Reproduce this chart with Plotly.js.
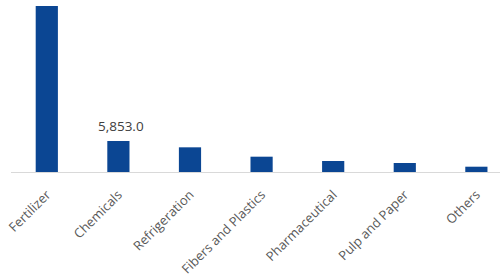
<!DOCTYPE html>
<html>
<head>
<meta charset="utf-8">
<script src="https://cdn.plot.ly/plotly-3.0.1.min.js"></script>
<style>
  html, body { margin: 0; padding: 0; background: #ffffff; }
  #chart { width: 500px; height: 280px; }
</style>
</head>
<body>
<div id="chart"></div>
<script>
// End-use segments and their values
const categories = ['Fertilizer', 'Chemicals', 'Refrigeration', 'Fibers and Plastics', 'Pharmaceutical', 'Pulp and Paper', 'Others'];
const values = [31340, 5853, 4660, 2890, 2080, 1700, 1000];
// Only the Chemicals bar carries a value label
const labelledCategory = 'Chemicals';

const labelIdx = categories.indexOf(labelledCategory);
const labelText = values[labelIdx].toLocaleString('en-US', { minimumFractionDigits: 1, maximumFractionDigits: 1 });

const trace = {
  type: 'bar',
  x: categories,
  y: values,
  marker: { color: '#0b4693' },
  hoverinfo: 'x+y'
};

const layout = {
  width: 500,
  height: 280,
  margin: { l: 11, r: 0, t: 0, b: 108 },
  paper_bgcolor: '#ffffff',
  plot_bgcolor: '#ffffff',
  bargap: 0.69,
  showlegend: false,
  font: { family: '"Open Sans", sans-serif', color: '#595959' },
  xaxis: {
    type: 'category',
    range: [-0.5, 6.33],
    showline: true,
    linecolor: '#d9d9d9',
    linewidth: 1,
    showgrid: false,
    zeroline: false,
    ticks: '',
    tickangle: -45,
    ticklabelstandoff: 9,
    tickfont: { size: 13, color: '#595959', family: '"Open Sans", sans-serif' }
  },
  yaxis: {
    range: [0, 32475],
    visible: false,
    showgrid: false,
    zeroline: false
  },
  annotations: [{
    x: labelledCategory,
    y: values[labelIdx],
    xref: 'x',
    yref: 'y',
    text: labelText,
    showarrow: false,
    yanchor: 'bottom',
    yshift: 4,
    xshift: 3,
    font: { size: 13.5, color: '#404040', family: '"Open Sans", sans-serif' }
  }]
};

Plotly.newPlot('chart', [trace], layout, { displayModeBar: false, staticPlot: true });
</script>
</body>
</html>
